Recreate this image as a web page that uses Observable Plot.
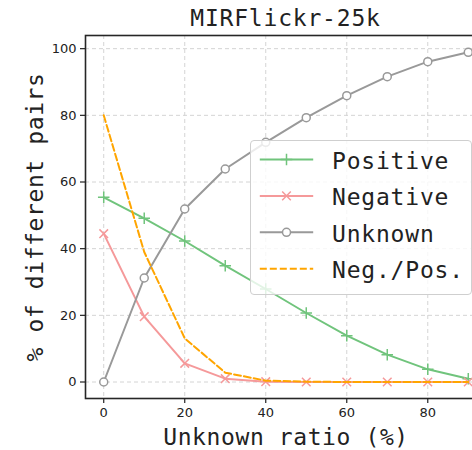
<!DOCTYPE html>
<html>
<head>
<meta charset="utf-8">
<script src="https://cdn.jsdelivr.net/npm/d3@7"></script>
<script src="https://cdn.jsdelivr.net/npm/@observablehq/plot@0.6"></script>
<style>
  html, body { margin: 0; padding: 0; background: #fff; width: 472px; height: 450px; overflow: hidden; }
  #wrap { position: relative; width: 472px; height: 450px; overflow: hidden; }
  #title { position: absolute; left: 85px; width: 401px; top: 7px; text-align: center;
           font-family: "DejaVu Sans Mono", monospace; font-size: 23px; line-height: 23px;
           color: #222; letter-spacing: 0.8px; white-space: nowrap; }
  #chart { position: absolute; left: 0; top: 30px; }
  #chart svg { max-width: none !important; }
  #chart g[aria-label="x-axis label"] text, #chart g[aria-label="y-axis label"] text { letter-spacing: 0.6px; }
  #legend { position: absolute; left: 249.5px; top: 139.5px; width: 222px; height: 155px;
            box-sizing: border-box; border: 1px solid #cfcfcf; border-radius: 4px;
            background: rgba(255,255,255,0.8); }
  #legend svg { position: absolute; left: -1px; top: -1px; overflow: visible; }
</style>
</head>
<body>
<div id="wrap">
  <div id="title"></div>
  <div id="chart"></div>
  <div id="legend"></div>
</div>
<script>
// ---- data ----
const ratios    = [0, 10, 20, 30, 40, 50, 60, 70, 80, 90];
const positive  = [55.4, 49.1, 42.3, 34.9, 27.9, 20.7, 13.9, 8.2, 3.8, 1.0];
const negative  = [44.5, 19.6, 5.6, 1.0, 0.1, 0, 0, 0, 0, 0];
const unknown   = [0, 31.2, 51.9, 63.9, 71.9, 79.3, 85.9, 91.6, 96.1, 98.9];
const negPos    = [80.0, 39.0, 13.1, 2.8, 0.4, 0.1, 0, 0, 0, 0];
const seriesNames  = ["Positive", "Negative", "Unknown", "Neg./Pos."];
const seriesColors = ["#70c47c", "#f5999a", "#999999", "#ffa500"];
const seriesValues = [positive, negative, unknown, negPos];
const xTicks = [0, 20, 40, 60, 80];
const yTicks = [0, 20, 40, 60, 80, 100];
const titleText = "MIRFlickr-25k";
const xLabel = "Unknown ratio (%)";
const yLabel = "% of different pairs";

// ---- styles per series ----
const styles = [
  {symbol: "plus",   r: 3.8, fill: "none",  dash: null},
  {symbol: "times",  r: 4,   fill: "none",  dash: null},
  {symbol: "circle", r: 4,   fill: "white", dash: null},
  {symbol: null,     r: 0,   fill: "none",  dash: "7,3"}
];

document.getElementById("title").textContent = titleText;

const seriesMarks = [];
seriesNames.forEach((name, i) => {
  const rows = ratios.map((x, j) => ({x, y: seriesValues[i][j], s: name}));
  const st = styles[i];
  seriesMarks.push(Plot.line(rows, {x: "x", y: "y", stroke: seriesColors[i], strokeWidth: 2,
    strokeDasharray: st.dash || undefined, curve: "linear"}));
  if (st.symbol) {
    seriesMarks.push(Plot.dot(rows, {x: "x", y: "y", symbol: () => st.symbol, r: st.r,
      stroke: seriesColors[i], fill: st.fill, strokeWidth: 1.5}));
  }
});

const gridStyle = {stroke: "#d4d4d4", strokeOpacity: 1, strokeWidth: 1, strokeDasharray: "4,3"};

const chart = Plot.plot({
  width: 490, height: 420,
  marginTop: 5, marginBottom: 52, marginLeft: 85, marginRight: 4,
  style: {background: "transparent", maxWidth: "none", fontFamily: "DejaVu Sans", overflow: "visible"},
  x: {domain: [-4.5, 94.5]},
  y: {domain: [-4.95, 103.95]},
  marks: [
    Plot.gridX(xTicks, gridStyle),
    Plot.gridY(yTicks, gridStyle),
    ...seriesMarks,
    Plot.frame({stroke: "#262626", strokeWidth: 1.6}),
    Plot.axisX(xTicks, {tickSize: 5, tickPadding: 4.5, fontSize: 13, fontFamily: "DejaVu Sans",
      color: "#222", strokeWidth: 1.2, label: null}),
    Plot.axisY(yTicks, {tickSize: 5, tickPadding: 4, fontSize: 13, fontFamily: "DejaVu Sans",
      color: "#222", strokeWidth: 1.2, label: null}),
    Plot.axisX([], {tickSize: 0, label: xLabel, labelAnchor: "center", labelArrow: "none",
      labelOffset: 46, fontFamily: "DejaVu Sans Mono", fontSize: 23, color: "#222"}),
    Plot.axisY([], {tickSize: 0, label: yLabel, labelAnchor: "center", labelArrow: "none",
      labelOffset: 59, fontFamily: "DejaVu Sans Mono", fontSize: 23, color: "#222"})
  ]
});
document.getElementById("chart").appendChild(chart);

// ---- legend ----
const rowY0 = 19.5, rowStep = 36.4;
const lsvg = d3.select("#legend").append("svg").attr("width", 222).attr("height", 155);
seriesNames.forEach((name, i) => {
  const y = rowY0 + i * rowStep;
  const st = styles[i];
  const g = lsvg.append("g");
  g.append("line").attr("x1", 9.8).attr("x2", 63.2).attr("y1", y).attr("y2", y)
    .attr("stroke", seriesColors[i]).attr("stroke-width", 2)
    .attr("stroke-dasharray", st.dash);
  if (st.symbol) {
    const type = {plus: d3.symbolPlus, times: d3.symbolTimes, circle: d3.symbolCircle}[st.symbol];
    g.append("path").attr("d", d3.symbol(type, Math.PI * st.r * st.r)())
      .attr("transform", `translate(36.5,${y})`)
      .attr("fill", st.fill).attr("stroke", seriesColors[i]).attr("stroke-width", 1.5);
  }
  g.append("text").attr("x", 82).attr("y", y + 9.5).text(name)
    .attr("font-family", "DejaVu Sans Mono").attr("font-size", 23)
    .attr("fill", "#222").style("letter-spacing", "0.8px");
});
</script>
</body>
</html>
